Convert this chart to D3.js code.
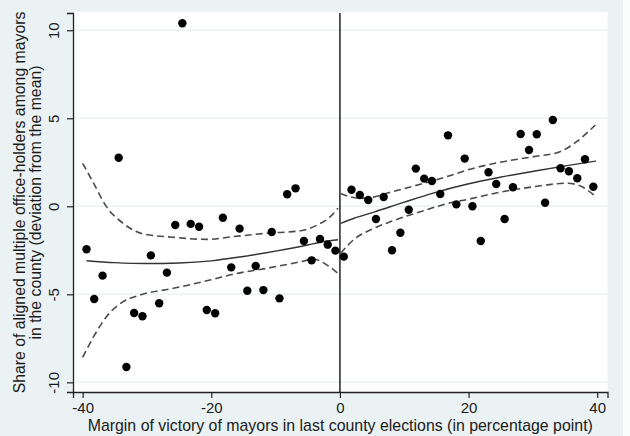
<!DOCTYPE html>
<html>
<head>
<meta charset="utf-8">
<script src="https://cdn.jsdelivr.net/npm/d3@7"></script>
<style>
  html, body { margin: 0; padding: 0; background: #fff; }
  svg text { font-family: "Liberation Sans", Arial, sans-serif; fill: #1a1a1a; }
</style>
</head>
<body>
<div id="chart"></div>
<script>
// --- binned means, left of the cutoff (margin < 0) ---
const binXLeft = [-39.4, -38.2, -36.9, -34.4, -33.2, -32.0, -30.7, -29.4, -28.1, -26.9, -25.6,
  -24.5, -23.2, -21.9, -20.7, -19.4, -18.2, -16.9, -15.6, -14.4, -13.1, -11.9, -10.6, -9.4,
  -8.2, -6.9, -5.6, -4.4, -3.1, -1.9, -0.7];
const binYLeft = [-2.44, -5.27, -3.94, 2.76, -9.13, -6.06, -6.25, -2.79, -5.51, -3.77, -1.06,
  10.4, -1.0, -1.16, -5.89, -6.08, -0.65, -3.47, -1.27, -4.8, -3.39, -4.76, -1.46, -5.23,
  0.68, 1.02, -1.97, -3.07, -1.86, -2.18, -2.52];

// --- binned means, right of the cutoff (margin > 0) ---
const binXRight = [0.6, 1.8, 3.1, 4.4, 5.6, 6.8, 8.1, 9.4, 10.7, 11.8, 13.1, 14.3, 15.6, 16.8,
  18.1, 19.4, 20.6, 21.9, 23.1, 24.3, 25.6, 26.9, 28.1, 29.4, 30.6, 31.9, 33.1, 34.3, 35.6,
  36.9, 38.1, 39.4];
const binYRight = [-2.86, 0.94, 0.64, 0.36, -0.72, 0.53, -2.5, -1.5, -0.2, 2.14, 1.57, 1.44,
  0.70, 4.03, 0.11, 2.71, 0.0, -1.97, 1.93, 1.27, -0.72, 1.08, 4.11, 3.2, 4.09, 0.2, 4.9,
  2.16, 1.99, 1.59, 2.67, 1.11];

// --- fitted polynomial and 95% band ---
const fitXLeft = [-39.4, -35, -30, -25, -20, -15, -10, -5, -2.5, -0.3];
const fitYLeft = [-3.09, -3.2, -3.25, -3.22, -3.1, -2.85, -2.55, -2.2, -2.0, -1.9];
const upXLeft = [-40, -38.3, -36.3, -33.7, -30.6, -25.9, -20.7, -16.5, -11.3, -6.1, -3.5, -1.5, -0.3];
const upYLeft = [2.44, 1.31, -0.02, -0.97, -1.57, -1.76, -1.88, -1.72, -1.53, -1.39, -1.06, -0.59, -0.11];
const loXLeft = [-40, -38.3, -36.3, -33.7, -31.1, -25.9, -20.2, -16.5, -11.3, -6.1, -4.1, -2.0, -0.2];
const loYLeft = [-8.58, -7.41, -6.27, -5.42, -5.04, -4.66, -4.19, -3.85, -3.52, -3.15, -3.01, -3.34, -3.85];

const fitXRight = [0.1, 2.2, 5.3, 9.9, 14.5, 19.7, 24.9, 30.1, 35.3, 39.8];
const fitYRight = [-0.97, -0.68, -0.33, 0.22, 0.75, 1.25, 1.65, 1.99, 2.31, 2.57];
const upXRight = [0.1, 1.5, 3.2, 5, 7.3, 12.5, 14.5, 17.2, 19.7, 24.9, 30.1, 34.2, 36.8, 39.7];
const upYRight = [0.72, 0.55, 0.45, 0.5, 0.74, 1.25, 1.45, 1.75, 2.05, 2.5, 2.82, 3.1, 3.67, 4.62];
const loXRight = [0.1, 2.1, 5.3, 7.9, 12.5, 17.2, 19.7, 24.9, 30.1, 35.3, 37.4, 39.8];
const loYRight = [-2.67, -1.91, -1.25, -0.87, -0.31, 0.2, 0.38, 0.8, 1.11, 1.31, 1.15, 0.55];

const xTicks = [-40, -20, 0, 20, 40];
const yTicks = [-10, -5, 0, 5, 10];

const xTitle = "Margin of victory of mayors in last county elections (in percentage point)";
const yTitle = ["Share of aligned multiple office-holders among mayors",
                "in the county (deviation from the mean)"];

const W = 630, H = 436;
const plot = { left: 73, right: 607.5, top: 13, bottom: 392 };

const svg = d3.select("#chart").append("svg")
  .attr("width", W).attr("height", H);

// graph region + plot region (Stata s2color look)
svg.append("rect").attr("width", W).attr("height", H).attr("fill", "#eaf2f3");
svg.append("rect").attr("x", 623).attr("width", W - 623).attr("height", H).attr("fill", "#fbfcfc");
svg.append("rect")
  .attr("x", plot.left).attr("y", plot.top - 1)
  .attr("width", plot.right - plot.left).attr("height", plot.bottom - plot.top + 1)
  .attr("fill", "#fff");

const x = d3.scaleLinear().domain([-41.5, 41.6]).range([plot.left, plot.right]);
const y = d3.scaleLinear().domain([-10.55, 10.98]).range([plot.bottom, plot.top]);

// horizontal grid lines
svg.append("g").selectAll("line").data(yTicks).enter().append("line")
  .attr("x1", plot.left).attr("x2", plot.right)
  .attr("y1", d => y(d)).attr("y2", d => y(d))
  .attr("stroke", "#eaf2f3").attr("stroke-width", 1.5);

// axes
const yAxis = svg.append("g")
  .attr("transform", `translate(${plot.left},0)`)
  .call(d3.axisLeft(y).tickValues(yTicks).tickSize(6).tickFormat(d => String(d)));
// Stata draws y tick labels vertically
yAxis.selectAll("text")
  .attr("x", 0).attr("y", 0).attr("dy", 0)
  .attr("transform", "translate(-14.5,0) rotate(-90)")
  .attr("text-anchor", "middle")
  .style("font-size", "15px");

const xAxis = svg.append("g")
  .attr("transform", `translate(0,${plot.bottom})`)
  .call(d3.axisBottom(x).tickValues(xTicks).tickSize(6).tickFormat(d => String(d)));
xAxis.selectAll("text").style("font-size", "15px").attr("y", 10).attr("dy", "0.71em");

[yAxis, xAxis].forEach(g => {
  g.select(".domain").attr("stroke", "#222").attr("stroke-width", 1.3);
  g.selectAll(".tick line").attr("stroke", "#222").attr("stroke-width", 1.2);
  g.selectAll("text").attr("fill", "#1a1a1a");
});

// axis titles
svg.append("text")
  .attr("x", (plot.left + plot.right) / 2).attr("y", 430.5)
  .attr("text-anchor", "middle").style("font-size", "15.9px")
  .text(xTitle);

yTitle.forEach((t, i) => {
  svg.append("text")
    .attr("transform", `translate(${25 + i * 15.5},${(plot.top + plot.bottom) / 2}) rotate(-90)`)
    .attr("text-anchor", "middle").style("font-size", "15.8px")
    .text(t);
});

// cutoff line
svg.append("line")
  .attr("x1", x(0)).attr("x2", x(0))
  .attr("y1", plot.top).attr("y2", plot.bottom)
  .attr("stroke", "#111").attr("stroke-width", 1.4);

const line = d3.line().x(d => x(d[0])).y(d => y(d[1])).curve(d3.curveMonotoneX);
const zip = (xs, ys) => xs.map((v, i) => [v, ys[i]]);

// confidence bands (dashed)
[[upXLeft, upYLeft], [loXLeft, loYLeft], [upXRight, upYRight], [loXRight, loYRight]].forEach(([xs, ys]) => {
  svg.append("path")
    .datum(zip(xs, ys))
    .attr("d", line)
    .attr("fill", "none")
    .attr("stroke", "#4a4a4a")
    .attr("stroke-width", 1.6)
    .attr("stroke-dasharray", "7 4");
});

// fitted lines (solid)
[[fitXLeft, fitYLeft], [fitXRight, fitYRight]].forEach(([xs, ys]) => {
  svg.append("path")
    .datum(zip(xs, ys))
    .attr("d", line)
    .attr("fill", "none")
    .attr("stroke", "#333")
    .attr("stroke-width", 1.4);
});

// binned scatter
svg.append("g").selectAll("circle")
  .data(zip(binXLeft, binYLeft).concat(zip(binXRight, binYRight)))
  .enter().append("circle")
  .attr("cx", d => x(d[0]))
  .attr("cy", d => y(d[1]))
  .attr("r", 4.2)
  .attr("fill", "#000");
</script>
</body>
</html>
